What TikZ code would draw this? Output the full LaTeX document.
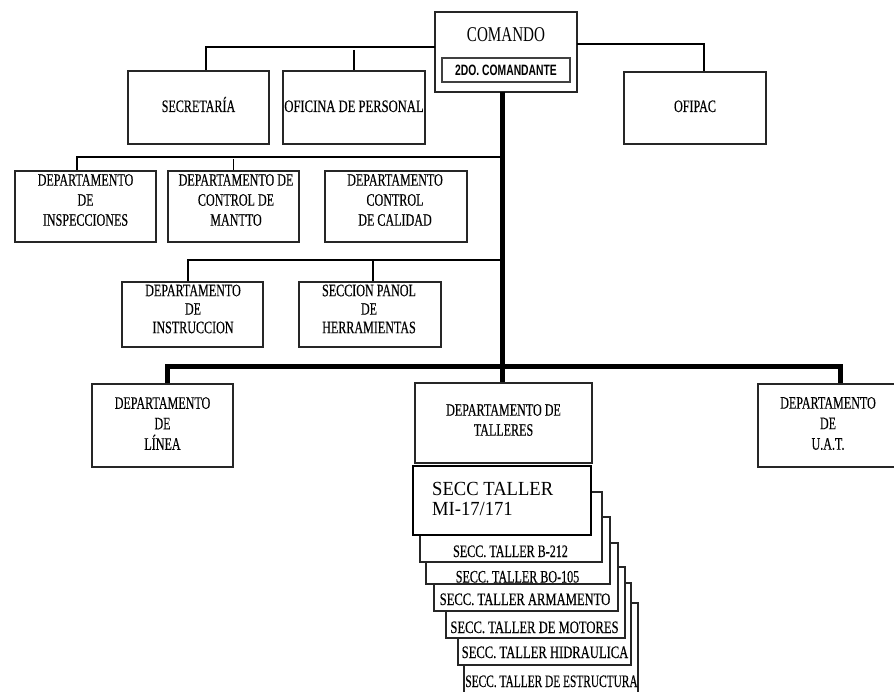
\documentclass[tikz,border=0pt]{standalone}
\usepackage{fontspec}
\newfontfamily\cf[FakeStretch=0.69,FakeBold=0.3]{Liberation Serif}
\newfontfamily\cfw[FakeStretch=0.72,FakeBold=0.3]{Liberation Serif}
\newfontfamily\cfn[FakeStretch=0.65,FakeBold=0.3]{Liberation Serif}
\newfontfamily\cfc[FakeStretch=0.72]{Liberation Serif}
\newfontfamily\cfm[FakeStretch=0.93]{Liberation Serif}
\newfontfamily\sfb[FakeStretch=0.69]{Liberation Sans}
\begin{document}
\begin{tikzpicture}[x=1pt,y=-1pt,line join=miter,
  bx/.style 2 args={draw=black!85, line width=1.2pt, fill=white, inner sep=0pt, minimum width=#1pt, minimum height=#2pt},
  tx/.style={font=\cf\fontsize{17.5}{20}\selectfont, align=center, inner sep=0pt},
  txs/.style={font=\cf\fontsize{17.5}{18.5}\selectfont, align=center, inner sep=0pt},
  txl/.style={font=\cf\fontsize{17.5}{20.5}\selectfont, align=center, inner sep=0pt},
  txb/.style={font=\cf\fontsize{17.5}{20}\selectfont, inner sep=0pt, anchor=base},
  txw/.style={font=\cfw\fontsize{17.5}{20}\selectfont, inner sep=0pt, anchor=base},
  conn/.style={draw=black, line width=1.2pt},
  trunk/.style={draw=black, line width=4.5pt},
  bar/.style={draw=black, line width=5pt}]
\useasboundingbox (0,0) rectangle (894,692);

% top level
\node[bx={142}{80}] (comando) at (506,52) {};
\node[font=\cfc\fontsize{21}{24}\selectfont, inner sep=0pt, anchor=base] (comando-t) at (506,42) {COMANDO};
\node[bx={128}{24}, line width=1.8pt, draw=black!75, font=\sfb\bfseries\fontsize{15}{18}\selectfont] (dos) at (506,70) {2DO. COMANDANTE};

\node[bx={141}{73}] (secr) at (198.5,107.5) {};
\node[txb] (secr-t) at (198.5,112) {SECRETARÍA};
\node[bx={142}{73}] (ofic) at (354,107.5) {};
\node[txw] (ofic-t) at (354,112) {OFICINA DE PERSONAL};
\node[bx={142}{72}] (ofipac) at (695,108) {};
\node[txb] (ofipac-t) at (695,112) {OFIPAC};

% row 1
\node[bx={141}{71}] (insp) at (85.5,206.5) {};
\node[tx] (insp-t) at (85.5,200) {DEPARTAMENTO\\DE\\INSPECCIONES};
\node[bx={131}{71}] (mantto) at (233.5,206.5) {};
\node[tx] (mantto-t) at (236,200) {DEPARTAMENTO DE\\CONTROL DE\\MANTTO};
\node[bx={142}{71}] (calid) at (396,206.5) {};
\node[tx] (calid-t) at (395,200) {DEPARTAMENTO\\CONTROL\\DE CALIDAD};

% row 2
\node[bx={141}{65}] (instr) at (192.5,314.5) {};
\node[txs] (instr-t) at (193,309) {DEPARTAMENTO\\DE\\INSTRUCCION};
\node[bx={142}{65}] (panol) at (370,314.5) {};
\node[txs] (panol-t) at (369,309) {SECCION PANOL\\DE\\HERRAMIENTAS};

% bottom row
\node[bx={141}{83}] (linea) at (162.5,425.5) {};
\node[txl] (linea-t) at (162.5,423.5) {DEPARTAMENTO\\DE\\LÍNEA};
\node[bx={177}{80}] (talleres) at (503.5,423) {};
\node[tx] (talleres-t) at (503.5,420) {DEPARTAMENTO DE\\TALLERES};
\node[bx={139}{83}] (uat) at (827.5,425.5) {};
\node[txl] (uat-t) at (828,423.5) {DEPARTAMENTO\\DE\\U.A.T.};

% stacked sections (back to front)
\node[bx={174}{92}] (estr) at (551,649) {};
\node[font=\cfn\fontsize{17.5}{20}\selectfont, inner sep=0pt, anchor=base] (estr-t) at (551.5,687) {SECC. TALLER DE ESTRUCTURA};
\node[bx={173}{82}] (hidr) at (544.5,624) {};
\node[txw] (hidr-t) at (545,658) {SECC. TALLER HIDRAULICA};
\node[bx={179}{71}] (motor) at (535.5,602.5) {};
\node[txw] (motor-t) at (534.5,633) {SECC. TALLER DE MOTORES};
\node[bx={184}{68}] (arma) at (526,577) {};
\node[txw] (arma-t) at (525,605) {SECC. TALLER ARMAMENTO};
\node[bx={184}{67}] (bo) at (518,550.5) {};
\node[txb] (bo-t) at (517.5,582.5) {SECC. TALLER BO-105};
\node[bx={182}{70}] (b212) at (511,527) {};
\node[txb] (b212-t) at (510.5,557) {SECC. TALLER B-212};
\node[bx={178}{69}, line width=2.4pt, draw=black] (mi) at (502,500.5) {};
\node[font=\cfm\fontsize{20}{20}\selectfont, align=left, inner sep=0pt, anchor=west] (mi-t) at (432,498.5) {SECC TALLER\\MI-17/171};

% connectors
\coordinate (t0) at (502.5,92);
\coordinate (j1) at (502.5,157);
\coordinate (j2) at (502.5,260);
\coordinate (j3) at (502.5,367);
\coordinate (cl) at (435,47);
\coordinate (cr) at (577,44);

\path[conn] (cl) -| ([xshift=7.5pt]secr.north);
\path[conn] ([yshift=-3pt]ofic.north |- cl) -- (ofic.north);
\path[conn] (cr) -| ([xshift=9pt]ofipac.north);

\path[conn] (j1) -| ([xshift=-8.5pt]insp.north);
\path[conn] ([yshift=-2pt]mantto.north |- j1) -- (mantto.north);
\path[conn] (j2) -| ([xshift=-4.5pt]instr.north);
\path[conn] ([xshift=3pt]panol.north |- j2) -- ([xshift=3pt]panol.north);

\path[trunk] (t0) -- (j3) -- (talleres.north -| j3);
\path[bar] ([xshift=4.5pt]linea.north) |- (j3) -| ([xshift=12.5pt]uat.north);
\end{tikzpicture}
\end{document}
